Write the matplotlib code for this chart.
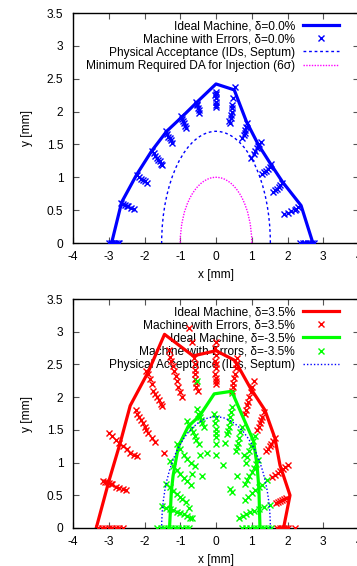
import matplotlib
matplotlib.use("Agg")
import matplotlib.pyplot as plt
from matplotlib.patches import Arc
from matplotlib.lines import Line2D
from matplotlib.ticker import FixedLocator, FuncFormatter

plt.rcParams['font.family'] = ['Liberation Sans', 'DejaVu Sans']
FS = 8.6
plt.rcParams['font.size'] = FS

# ---------------- data: top panel (delta = 0.0%) ----------------
ideal0_x = [-2.92, -2.64, -2.22, -1.80, -1.38, -0.95, -0.52, 0.0, 0.51, 0.85, 1.18, 1.52, 1.86, 2.38, 2.71]
ideal0_y = [0.0, 0.62, 1.04, 1.40, 1.70, 1.92, 2.15, 2.42, 2.33, 1.85, 1.50, 1.21, 0.93, 0.57, 0.0]

err0_x = [-3.0, -2.95, -2.9, -2.85, -2.8, -2.75, -2.7,
          -2.66, -2.6, -2.55, -2.5, -2.45, -2.38, -2.3,
          -2.2, -2.15, -2.1, -2.05, -2.0, -1.93,
          -1.78, -1.74, -1.7, -1.66, -1.62, -1.58, -1.53, -1.5,
          -1.4, -1.37, -1.34, -1.3, -1.26, -1.22,
          -0.98, -0.95, -0.93, -0.9, -0.88, -0.85,
          -0.55, -0.52, -0.5, -0.48, -0.47, -0.53,
          0.0, -0.02, 0.01, 0.0, -0.01, 0.01, 0.0,
          0.52, 0.48, 0.46, 0.45, 0.43, 0.41, 0.38, 0.37, 0.44,
          0.88, 0.85, 0.82, 0.8, 0.77, 0.74,
          1.25, 1.2, 1.15, 1.1, 1.05, 0.98, 1.18,
          1.55, 1.5, 1.45, 1.4, 1.35, 1.3,
          1.85, 1.8, 1.75, 1.7, 1.65, 1.6,
          2.3, 2.25, 2.2, 2.1, 2.0, 1.9,
          2.35, 2.42, 2.5, 2.56, 2.62, 2.68, 2.75]
err0_y = [0.0, 0.0, 0.0, 0.0, 0.0, 0.0, 0.0,
          0.61, 0.6, 0.58, 0.57, 0.56, 0.54, 0.52,
          1.03, 1.0, 0.98, 0.96, 0.95, 0.92,
          1.40, 1.37, 1.33, 1.30, 1.27, 1.25, 1.20, 1.18,
          1.70, 1.66, 1.62, 1.60, 1.57, 1.52,
          1.93, 1.88, 1.85, 1.82, 1.78, 1.75,
          2.14, 2.10, 2.06, 2.02, 1.98, 2.12,
          2.30, 2.25, 2.20, 2.15, 2.10, 2.07, 2.27,
          2.38, 2.20, 2.10, 2.00, 1.95, 1.90, 1.82, 1.85, 2.05,
          1.82, 1.76, 1.72, 1.68, 1.64, 1.60,
          1.53, 1.50, 1.45, 1.40, 1.35, 1.30, 1.47,
          1.20, 1.16, 1.13, 1.10, 1.08, 1.05,
          0.92, 0.88, 0.85, 0.82, 0.80, 0.77,
          0.55, 0.52, 0.50, 0.48, 0.46, 0.44,
          0.0, 0.0, 0.0, 0.0, 0.0, 0.0, 0.0]

# acceptance ellipses (semi-axes, mm)
phys_a, phys_b = 1.52, 1.70
minda_a, minda_b = 1.0, 1.0

# ---------------- data: bottom panel (delta = +/-3.5%) ----------------
idealp_x = [-3.35, -3.0, -2.68, -2.40, -1.90, -1.44, -0.64, 0.0, 0.53, 0.95, 1.37, 1.65, 1.79, 2.07, 1.89]
idealp_y = [0.0, 0.71, 1.30, 1.87, 2.38, 2.96, 2.63, 2.71, 2.56, 2.15, 1.80, 1.37, 0.96, 0.50, 0.0]

errp_x = [-3.3, -3.2, -3.1, -3.0, -2.9, -2.8, -2.7, -2.6,
          -3.15, -3.1, -3.05, -3.0, -2.95, -2.9, -2.8, -2.7, -2.6, -2.52,
          -3.0, -2.9, -2.8, -2.7, -2.6, -2.5, -2.4, -2.3, -2.2,
          -2.25, -2.2, -2.15, -2.1, -2.05, -2.0, -1.95, -1.9, -1.8, -1.7,
          -1.95, -1.9, -1.85, -1.8, -1.75, -1.7, -1.65, -1.6, -1.55, -1.5,
          -1.32, -1.28, -1.25, -1.2, -1.17, -1.13, -1.1, -1.05, -1.0, -0.95,
          -0.75, -0.68, -0.62, -0.6, -0.6, -0.58, -0.6, -0.57, -0.55, -0.5,
          0.0, -0.02, 0.0, -0.03, -0.01, 0.0, -0.02, 0.0, -0.01, 0.0,
          0.6, 0.57, 0.55, 0.52, 0.5, 0.48, 0.47, 0.45,
          1.05, 1.0, 0.97, 0.93, 0.9, 0.87, 0.83, 0.8,
          1.35, 1.3, 1.27, 1.23, 1.2, 1.15,
          1.65, 1.6, 1.55, 1.5, 1.45, 1.4,
          2.0, 1.93, 1.87, 1.8, 1.73, 1.65, 1.58,
          1.95, 1.9, 1.85, 1.8, 1.73, 1.67,
          1.7, 1.8, 1.85, 1.9, 1.95, 2.0, 2.2,
          -1.46]
errp_y = [0.0, 0.0, 0.0, 0.0, 0.0, 0.0, 0.0, 0.0,
          0.72, 0.71, 0.70, 0.69, 0.68, 0.67, 0.63, 0.61, 0.60, 0.58,
          1.45, 1.40, 1.35, 1.30, 1.25, 1.20, 1.15, 1.12, 1.10,
          1.80, 1.75, 1.70, 1.65, 1.60, 1.55, 1.50, 1.45, 1.38, 1.32,
          2.40, 2.35, 2.28, 2.20, 2.10, 2.05, 2.00, 1.95, 1.90, 1.87,
          2.72, 2.62, 2.55, 2.48, 2.40, 2.32, 2.25, 2.15, 2.08, 2.00,
          3.05, 2.85, 2.60, 2.50, 2.42, 2.35, 2.28, 2.22, 2.15, 2.10,
          2.85, 2.75, 2.65, 2.55, 2.50, 2.45, 2.35, 2.30, 2.25, 2.20,
          2.60, 2.50, 2.45, 2.35, 2.30, 2.22, 2.15, 2.10,
          2.25, 2.15, 2.08, 2.00, 1.93, 1.88, 1.80, 1.75,
          1.78, 1.70, 1.65, 1.60, 1.55, 1.50,
          1.38, 1.33, 1.28, 1.25, 1.20, 1.17,
          0.97, 0.93, 0.90, 0.87, 0.84, 0.81, 0.78,
          0.46, 0.45, 0.43, 0.42, 0.40, 0.38,
          0.0, 0.0, 0.0, 0.0, 0.0, 0.0, 0.0,
          1.15]

idealm_x = [-1.30, -1.25, -1.20, -1.05, -0.78, -0.45, -0.05, 0.44, 0.75, 1.05, 1.15, 1.20, 1.23]
idealm_y = [0.0, 0.55, 0.80, 1.25, 1.55, 1.72, 2.05, 2.09, 1.70, 1.33, 0.95, 0.60, 0.0]

errm_x = [-1.65, -1.55, -1.45, -1.35, -1.25, -1.15, -1.05, -0.95, -0.85, -0.75,
          -1.5, -1.4, -1.3, -1.2, -1.1, -1.0, -0.9, -0.8, -0.72,
          -1.4, -1.3, -1.2, -1.1, -1.0, -0.95, -0.85, -0.75,
          -1.28, -1.2, -1.1, -1.0, -0.9, -0.8, -0.7,
          -1.1, -1.0, -0.9, -0.8, -0.7, -0.6,
          -0.82, -0.75, -0.7, -0.65, -0.6, -0.55, -0.48,
          -0.54, -0.5, -0.45, -0.42, -0.38, -0.33,
          -0.05, 0.0, -0.02, 0.01, 0.0, -0.01,
          0.44, 0.42, 0.4, 0.38, 0.36, 0.33, 0.31,
          0.72, 0.68, 0.65, 0.62, 0.58, 0.55,
          1.08, 1.03, 0.98, 0.93, 0.88, 0.83,
          1.18, 1.12, 1.05, 1.0, 0.93, 0.87, 0.82,
          1.42, 1.3, 1.2, 1.1, 1.0, 0.9, 0.8,
          1.5, 1.35, 1.2, 1.05, 0.95, 0.85, 0.75, 0.65,
          0.72, 0.85, 0.95, 1.05, 1.15, 1.25, 1.35, 1.45, 1.55,
          -0.68, -0.4, -0.68, -0.45, -0.26, 0.0, 0.0, 0.25, 0.19, 0.39, 0.44, 0.6, 0.77,
          -0.54, 0.45]
errm_y = [0.0, 0.0, 0.0, 0.0, 0.0, 0.0, 0.0, 0.0, 0.0, 0.0,
          0.34, 0.31, 0.29, 0.27, 0.25, 0.23, 0.22, 0.18, 0.15,
          0.68, 0.62, 0.57, 0.52, 0.47, 0.45, 0.40, 0.30,
          1.02, 0.95, 0.88, 0.82, 0.77, 0.72, 0.66,
          1.28, 1.20, 1.12, 1.05, 1.00, 0.95,
          1.64, 1.58, 1.52, 1.46, 1.40, 1.35, 1.29,
          1.82, 1.75, 1.70, 1.65, 1.60, 1.54,
          1.75, 1.68, 1.60, 1.52, 1.45, 1.39,
          1.85, 1.78, 1.70, 1.62, 1.55, 1.48, 1.44,
          1.54, 1.46, 1.38, 1.30, 1.24, 1.17,
          1.41, 1.33, 1.25, 1.17, 1.09, 1.00,
          1.04, 0.98, 0.92, 0.86, 0.80, 0.74, 0.68,
          0.73, 0.66, 0.62, 0.58, 0.53, 0.48, 0.43,
          0.35, 0.32, 0.29, 0.26, 0.24, 0.21, 0.18, 0.15,
          0.0, 0.0, 0.0, 0.0, 0.0, 0.0, 0.0, 0.0, 0.0,
          0.83, 0.80, 0.15, 1.11, 1.14, 1.29, 1.11, 1.30, 0.96, 0.60, 0.55, 0.80, 1.11,
          2.25, 2.07]

x_ticks = [-4, -3, -2, -1, 0, 1, 2, 3, 4]
y_ticks = [0, 0.5, 1, 1.5, 2, 2.5, 3, 3.5]

BLUE = '#0000ff'
RED = '#ff0000'
GREEN = '#00ff00'
MAGENTA = '#ff00ff'

W, H = 357, 566
fig = plt.figure(figsize=(W / 100, H / 100), dpi=100)
left = 73 / W
width = 286 / W
ax1 = fig.add_axes([left, (H - 243) / H, width, 230 / H])
ax2 = fig.add_axes([left, (H - 528) / H, width, 229 / H])

fmt = FuncFormatter(lambda v, p: '%g' % v)


def style(ax):
    ax.set_xlim(-4, 4)
    ax.set_ylim(0, 3.5)
    ax.xaxis.set_major_locator(FixedLocator(x_ticks))
    ax.yaxis.set_major_locator(FixedLocator(y_ticks))
    ax.xaxis.set_major_formatter(fmt)
    ax.yaxis.set_major_formatter(fmt)
    ax.tick_params(direction='in', length=4, width=0.8, color='#555555',
                   top=True, right=True, labelsize=FS)
    ax.tick_params(axis='x', pad=6)
    ax.tick_params(axis='y', pad=7)
    for s in ax.spines.values():
        s.set_linewidth(1.0)
        s.set_color('black')
    ax.set_xlabel('x [mm]', fontsize=FS, labelpad=4)
    ax.set_ylabel('y [mm]', fontsize=FS, labelpad=10)


def ellipse(ax, a, b, color, dash):
    arc = Arc((0, 0), 2 * a, 2 * b, theta1=0, theta2=180, color=color,
              lw=1.0, linestyle=(0, dash), zorder=4)
    ax.add_patch(arc)


def legend(ax, handles):
    leg = ax.legend(handles=handles, loc='upper right', frameon=False,
                    markerfirst=False, fontsize=FS, handlelength=3.0,
                    labelspacing=0.1, borderaxespad=0.2,
                    bbox_to_anchor=(0.955, 1.0), handletextpad=0.7)
    leg.set_zorder(0.5)


# top panel
style(ax1)
ax1.plot(ideal0_x, ideal0_y, color=BLUE, lw=2.3, zorder=2)
ax1.plot(err0_x, err0_y, 'x', color=BLUE, ms=4, mew=1.0, zorder=3)
ellipse(ax1, phys_a, phys_b, BLUE, (2, 2))
ellipse(ax1, minda_a, minda_b, MAGENTA, (1, 1))
legend(ax1, [
    Line2D([], [], color=BLUE, lw=2.3, label='Ideal Machine, δ=0.0%'),
    Line2D([], [], color=BLUE, ls='none', marker='x', ms=4, mew=1.0, label='Machine with Errors, δ=0.0%'),
    Line2D([], [], color=BLUE, lw=1.0, ls=(0, (2, 2)), label='Physical Acceptance (IDs, Septum)'),
    Line2D([], [], color=MAGENTA, lw=1.0, ls=(0, (1, 1)), label='Minimum Required DA for Injection (6σ)'),
])

# bottom panel
style(ax2)
ax2.plot(idealp_x, idealp_y, color=RED, lw=2.3, zorder=2)
ax2.plot(errp_x, errp_y, 'x', color=RED, ms=4, mew=1.0, zorder=3)
ax2.plot(idealm_x, idealm_y, color=GREEN, lw=2.3, zorder=3.2)
ax2.plot(errm_x, errm_y, 'x', color=GREEN, ms=4, mew=1.0, zorder=3.4)
ellipse(ax2, phys_a, phys_b, BLUE, (1, 1.5))
legend(ax2, [
    Line2D([], [], color=RED, lw=2.3, label='Ideal Machine, δ=3.5%'),
    Line2D([], [], color=RED, ls='none', marker='x', ms=4, mew=1.0, label='Machine with Errors, δ=3.5%'),
    Line2D([], [], color=GREEN, lw=2.3, label='Ideal Machine, δ=-3.5%'),
    Line2D([], [], color=GREEN, ls='none', marker='x', ms=4, mew=1.0, label='Machine with Errors, δ=-3.5%'),
    Line2D([], [], color=BLUE, lw=1.0, ls=(0, (1, 1.5)), label='Physical Acceptance (IDs, Septum)'),
])

fig.savefig('out.png', dpi=100)
